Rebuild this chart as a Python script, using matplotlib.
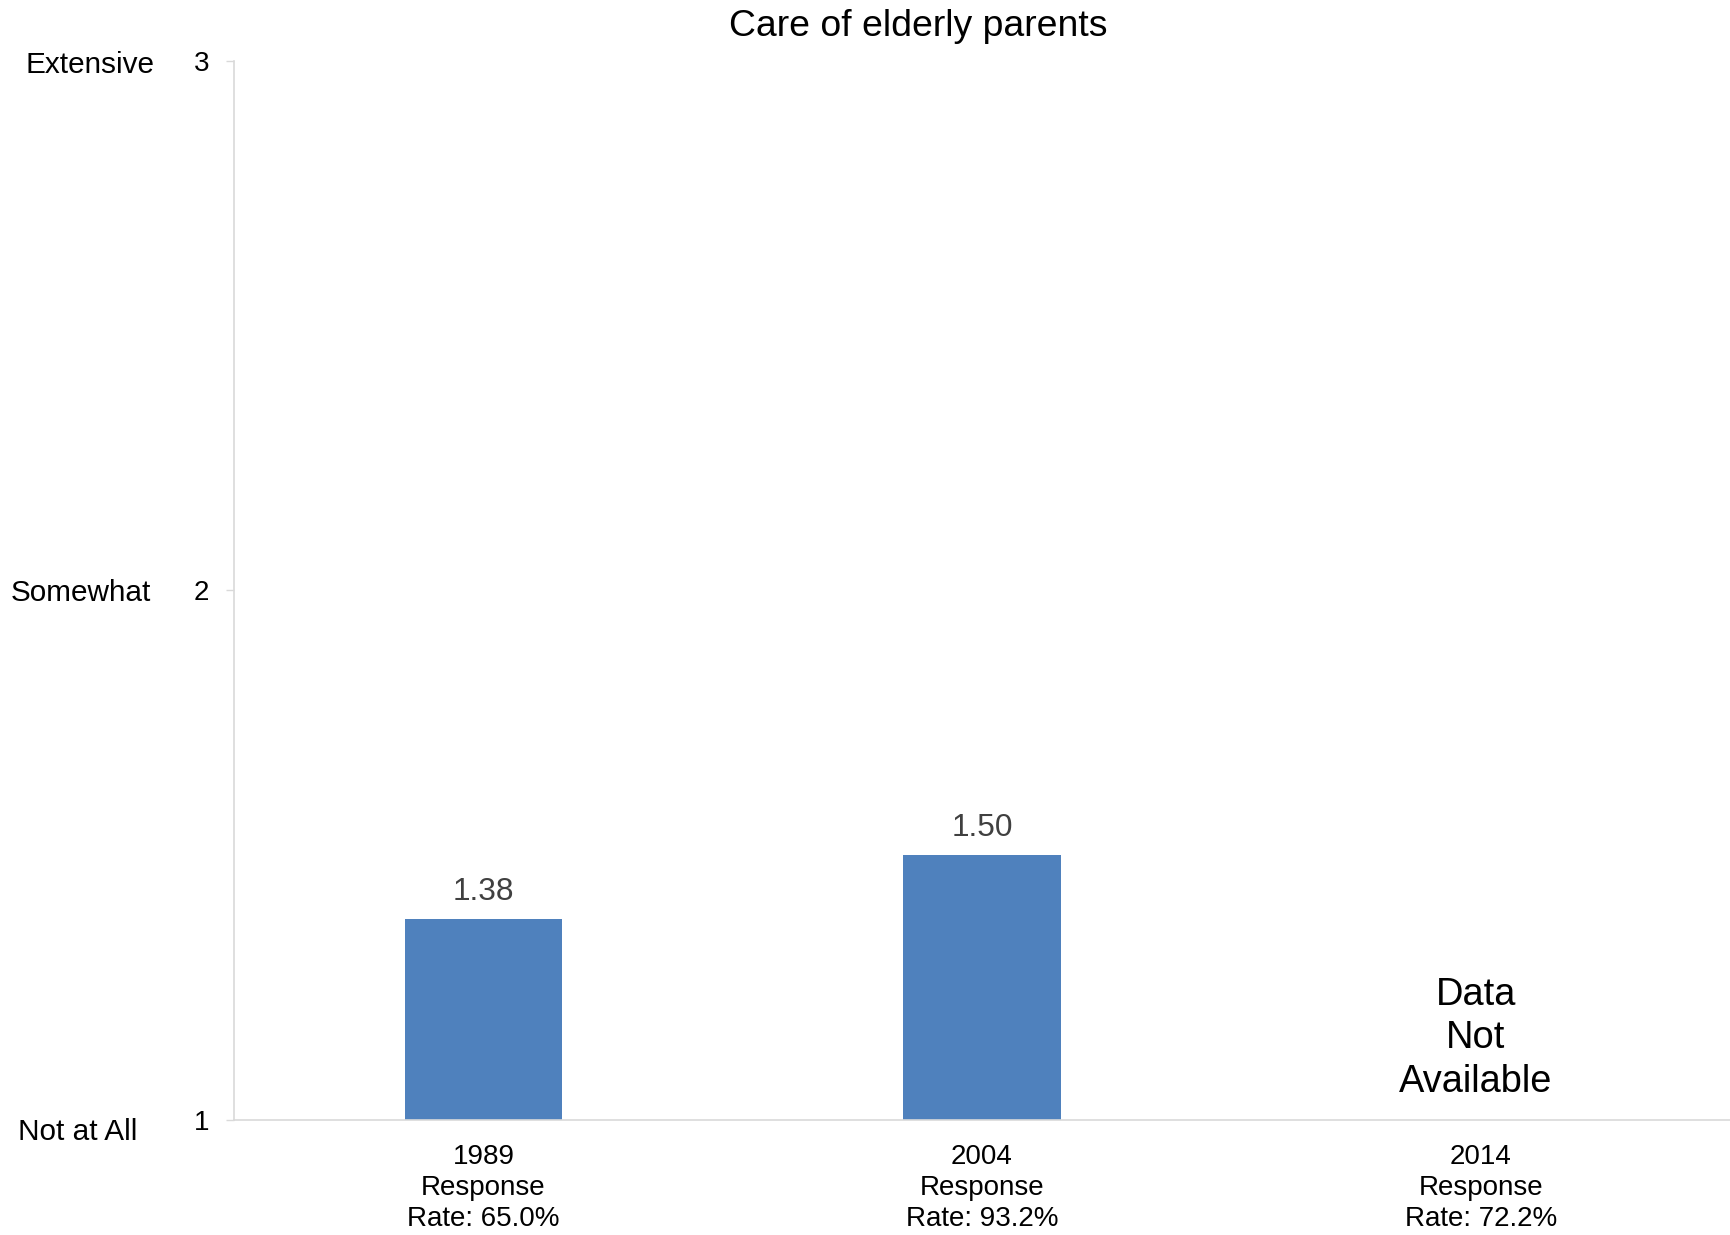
import matplotlib
matplotlib.use("Agg")
import matplotlib.pyplot as plt
import matplotlib.transforms as mtransforms

plt.rcParams['font.family'] = ['Liberation Sans', 'DejaVu Sans']

title = "Care of elderly parents"
categories = ["1989\nResponse\nRate: 65.0%", "2004\nResponse\nRate: 93.2%", "2014\nResponse\nRate: 72.2%"]
values = [1.38, 1.50, None]
value_labels = ["1.38", "1.50", None]
missing_text = "Data\nNot\nAvailable"
yticks = [1, 2, 3]
ytick_labels = ["1", "2", "3"]
scale_labels = ["Not at All", "Somewhat", "Extensive"]

bar_color = "#4f81bd"
axis_color = "#d9d9d9"

fig = plt.figure(figsize=(17.30, 12.35), dpi=100)
ax = fig.add_axes([0.1353, 0.0931, 0.8647, 0.8577])

base = 1.0
xs = list(range(len(categories)))
for x, v, lab in zip(xs, values, value_labels):
    if v is None:
        ax.text(x - 0.01, 1.154, missing_text, ha='center', va='center',
                fontsize=27.4, color='black', linespacing=1.28)
        continue
    ax.bar(x, v - base, bottom=base, width=0.315, color=bar_color, zorder=2)
    ax.annotate(lab, (x, v), xytext=(0, 19.5), textcoords='offset points',
                ha='center', va='center', fontsize=22.8, color='#404040')

ax.set_xlim(-0.5, 2.5)
ax.set_ylim(1, 3)
ax.set_xticks(xs)
ax.set_xticklabels(categories, fontsize=20, linespacing=1.27)
ax.set_yticks(yticks)
ax.set_yticklabels(ytick_labels, fontsize=20)

ax.tick_params(axis='x', length=0, pad=17)
ax.tick_params(axis='y', length=6, width=1, color=axis_color, pad=12)

for s in ['top', 'right']:
    ax.spines[s].set_visible(False)
for s in ['left', 'bottom']:
    ax.spines[s].set_color(axis_color)
    ax.spines[s].set_linewidth(1.2)
ax.spines['bottom'].set_zorder(3)

trans = mtransforms.blended_transform_factory(fig.transFigure, ax.transData)
label_x = [0.0104, 0.0064, 0.0150]
label_y_off = [-0.023, -0.004, -0.008]
for yv, lab, lx, dy in zip(yticks, scale_labels, label_x, label_y_off):
    ax.text(lx, yv + dy, lab, transform=trans, ha='left', va='center', fontsize=21.4)

fig.text(0.531, 1 - 27 / 1235, title, ha='center', va='center', fontsize=26.9)

fig.savefig("out.png", dpi=100, facecolor='white')
